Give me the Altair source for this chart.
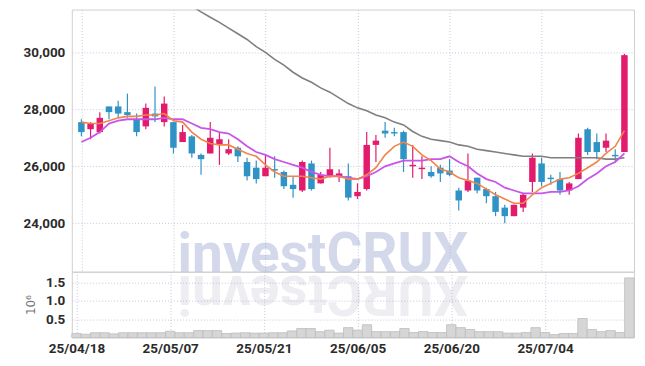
import altair as alt
import pandas as pd

dates = ["25/04/18", "25/04/21", "25/04/22", "25/04/23", "25/04/24", "25/04/25", "25/04/28", "25/04/29",
         "25/04/30", "25/05/02", "25/05/07", "25/05/08", "25/05/09", "25/05/12", "25/05/13", "25/05/14",
         "25/05/15", "25/05/16", "25/05/19", "25/05/20", "25/05/21", "25/05/22", "25/05/23", "25/05/26",
         "25/05/27", "25/05/28", "25/05/29", "25/05/30", "25/06/02", "25/06/04", "25/06/05", "25/06/09",
         "25/06/10", "25/06/11", "25/06/12", "25/06/13", "25/06/16", "25/06/17", "25/06/18", "25/06/19",
         "25/06/20", "25/06/23", "25/06/24", "25/06/25", "25/06/26", "25/06/27", "25/06/30", "25/07/01",
         "25/07/02", "25/07/03", "25/07/04", "25/07/07", "25/07/08", "25/07/09", "25/07/10", "25/07/11",
         "25/07/14", "25/07/15", "25/07/16", "25/07/17"]

opens = [27550, 27300, 27200, 28100, 28100, 27900, 27650, 27400, 27850, 27550,
         27550, 26850, 27050, 26400, 26450, 26750, 26450, 26650, 26150, 25950,
         25650, 25900, 25800, 25350, 25150, 26100, 25400, 25650, 25650, 25650,
         24950, 25200, 26750, 27250, 27200, 27200, 26000, 25900, 25800, 25950,
         25850, 25150, 25150, 25600, 25200, 24950, 24550, 24250, 24550, 25450,
         26100, 25600, 25550, 25150, 25550, 27300, 26850, 26650, 26400, 26500]
closes = [27200, 27500, 27700, 27900, 27850, 27800, 27200, 28050, 27750, 28200,
          26650, 27200, 26450, 26250, 27000, 26950, 26600, 26350, 25650, 25550,
          25950, 25850, 25300, 25200, 26150, 25200, 25700, 25900, 25750, 24900,
          25100, 26750, 26900, 27150, 27150, 26250, 26050, 25950, 25650, 25750,
          25700, 24800, 25500, 25150, 24950, 24400, 24250, 24650, 25000, 26300,
          25450, 25550, 25150, 25400, 27000, 26500, 26500, 26900, 26350, 29900]
highs = [27650, 27550, 27900, 28100, 28300, 28550, 27850, 28200, 28800, 28450,
         27550, 27450, 27100, 26450, 27550, 27200, 26950, 26700, 26300, 26200,
         26400, 26350, 25850, 25650, 26200, 26200, 25800, 26650, 25900, 26100,
         25400, 27200, 27100, 27550, 27350, 27250, 26750, 26350, 26000, 26050,
         26250, 25250, 26450, 25600, 25250, 25100, 24650, 24650, 25050, 26450,
         26300, 25700, 25800, 25450, 27150, 27350, 27150, 27150, 26600, 29950]
lows = [27050, 26950, 27150, 27650, 27700, 27700, 27050, 27300, 27550, 27400,
        26450, 26850, 26300, 25700, 26450, 26050, 26400, 26150, 25500, 25400,
        25650, 25600, 25200, 24900, 25100, 25150, 25400, 25600, 25450, 24800,
        24850, 25150, 26150, 27000, 27050, 25800, 25600, 25550, 25600, 25450,
        25650, 24450, 25100, 25050, 24700, 24250, 24000, 24250, 24400, 25100,
        25300, 25350, 25000, 25000, 25550, 26400, 26250, 26500, 26150, 26500]

ma_short = [27550, 27500, 27500, 27600, 27700, 27750, 27750, 27800, 27800, 27850,
            27600, 27550, 27200, 26950, 26800, 26750, 26750, 26600, 26450, 26350,
            26050, 25800, 25650, 25650, 25650, 25600, 25550, 25650, 25650, 25550,
            25550, 25700, 25950, 26400, 26700, 26850, 26700, 26400, 26200, 25900,
            25800, 25600, 25500, 25400, 25200, 25000, 24850, 24700, 24700, 25000,
            25250, 25400, 25550, 25600, 25750, 25950, 26150, 26450, 26700, 27250]
ma_mid = [26850, 27000, 27200, 27500, 27600, 27650, 27650, 27650, 27650, 27700,
          27650, 27650, 27500, 27350, 27300, 27200, 27150, 26950, 26700, 26500,
          26400, 26250, 26150, 26050, 25950, 25800, 25700, 25650, 25650, 25600,
          25550, 25650, 25800, 26000, 26100, 26200, 26200, 26200, 26250, 26250,
          26350, 26150, 26000, 25750, 25550, 25450, 25250, 25150, 25050, 25050,
          25050, 25100, 25100, 25150, 25300, 25550, 25750, 26000, 26150, 26450]
ma_long_start = 11
ma_long = [31800, 31620, 31420, 31230, 31050, 30850, 30650, 30450, 30200,
           30000, 29750, 29550, 29300, 29100, 28950, 28750, 28600, 28400, 28200,
           28050, 27950, 27800, 27700, 27550, 27450, 27220, 27050, 26950, 26900,
           26850, 26750, 26700, 26600, 26550, 26500, 26450, 26400, 26350, 26350,
           26350, 26300, 26300, 26300, 26300, 26300, 26300, 26250, 26250, 26300]

volumes = [0.11, 0.09, 0.13, 0.13, 0.10, 0.13, 0.13, 0.13, 0.13, 0.13,
           0.17, 0.13, 0.13, 0.19, 0.19, 0.19, 0.11, 0.12, 0.13, 0.12,
           0.12, 0.13, 0.13, 0.18, 0.245, 0.245, 0.16, 0.20, 0.12, 0.27,
           0.20, 0.35, 0.16, 0.16, 0.16, 0.245, 0.136, 0.163, 0.136, 0.136,
           0.35, 0.27, 0.22, 0.16, 0.16, 0.16, 0.12, 0.12, 0.136, 0.27,
           0.136, 0.08, 0.11, 0.11, 0.52, 0.22, 0.16, 0.19, 0.136, 1.63]

label_dates = ["25/04/18", "25/05/07", "25/05/21", "25/06/05", "25/06/20", "25/07/04"]
price_ticks = [24000, 26000, 28000, 30000]
vol_ticks = [0.5, 1.0, 1.5]

UP = "#e31b6d"
DOWN = "#2f93c6"
ORANGE = "#f0844c"
VIOLET = "#c955e8"
GRAY = "#7f7f7f"
FONT = "Roboto"

n = len(dates)
df = pd.DataFrame({
    "idx": list(range(n)), "date": dates, "open": opens, "high": highs,
    "low": lows, "close": closes, "ma_short": ma_short, "ma_mid": ma_mid,
    "vol": volumes,
})
df["dir"] = ["up" if c >= o else "down" for o, c in zip(opens, closes)]
df["x0"] = df["idx"] - 0.5
df["x1"] = df["idx"] + 0.5
long_df = pd.DataFrame({"idx": list(range(ma_long_start, ma_long_start + len(ma_long))), "ma": ma_long})

tick_idx = [dates.index(d) for d in label_dates]
label_expr = "[" + ",".join("'%s'" % d for d in dates) + "][datum.value]"

W = 564
H_PRICE = 263
H_VOL = 66

xscale = alt.Scale(domain=[-0.5, n - 0.5], nice=False, zero=False)
yscale = alt.Scale(domain=[22300, 31500], nice=False, zero=False)
color = alt.Color("dir:N", scale=alt.Scale(domain=["up", "down"], range=[UP, DOWN]), legend=None)

x_axis_top = alt.Axis(values=tick_idx, labels=False, ticks=False, domain=False, grid=True, title=None)
y_axis_price = alt.Axis(values=price_ticks, format=",d", title=None, ticks=False, domain=False,
                        labelPadding=7, grid=True)

base = alt.Chart(df)
wick = base.mark_rule(strokeWidth=1.2).encode(
    x=alt.X("idx:Q", scale=xscale, axis=x_axis_top),
    y=alt.Y("low:Q", scale=yscale, axis=y_axis_price),
    y2="high:Q",
    color=color,
)
body = base.mark_bar(size=6.5).encode(
    x=alt.X("idx:Q", scale=xscale),
    y=alt.Y("open:Q", scale=yscale),
    y2="close:Q",
    color=color,
)
line_long = alt.Chart(long_df).mark_line(color=GRAY, strokeWidth=1.6, clip=True).encode(
    x=alt.X("idx:Q", scale=xscale), y=alt.Y("ma:Q", scale=yscale))
line_mid = base.mark_line(color=VIOLET, strokeWidth=1.8, clip=True).encode(
    x=alt.X("idx:Q", scale=xscale), y=alt.Y("ma_mid:Q", scale=yscale))
line_short = base.mark_line(color=ORANGE, strokeWidth=1.6, clip=True).encode(
    x=alt.X("idx:Q", scale=xscale), y=alt.Y("ma_short:Q", scale=yscale))

wm_df = pd.DataFrame({"t": ["investCRUX"], "r": ["XURCtsevni"]})
watermark = alt.Chart(wm_df).mark_text(
    font="Roboto", fontWeight="bold", fontSize=55, align="left", baseline="alphabetic",
    color="#6f80c0", opacity=0.3,
).encode(x=alt.value(106), y=alt.value(H_PRICE), text="t:N")

price = alt.layer(watermark, wick, body, line_long, line_mid, line_short).properties(width=W, height=H_PRICE)

reflection = alt.Chart(wm_df).mark_text(
    font="Roboto", fontWeight="bold", fontSize=55, align="right", baseline="alphabetic",
    angle=180, color="#8a8aa8", opacity=0.14,
).encode(x=alt.value(106), y=alt.value(4), text="r:N")

vol_bars = alt.Chart(df).mark_bar(color="#d6d6d6", stroke="#bdbdbd", strokeWidth=0.8).encode(
    x=alt.X("x0:Q", scale=xscale,
            axis=alt.Axis(values=tick_idx, labelExpr=label_expr, grid=True, ticks=False,
                          domain=False, title=None, labelPadding=4, labelAngle=0)),
    x2="x1:Q",
    y=alt.Y("vol:Q", scale=alt.Scale(domain=[0, 1.8], nice=False),
            axis=alt.Axis(values=vol_ticks, format=".1f", title="10⁶", ticks=False, domain=False,
                          labelPadding=7, titlePadding=8, titleFont="DejaVu Sans",
                          titleFontWeight="normal", titleFontSize=12, titleColor="#777777")),
    y2=alt.datum(0),
)
volume = alt.layer(reflection, vol_bars).properties(width=W, height=H_VOL)

chart = alt.vconcat(price, volume, spacing=0, bounds="flush").properties(
    padding={"left": 14, "top": 0, "right": 2, "bottom": 2}
).configure_view(stroke="#cfcfcf").configure_axis(
    gridColor="#c3c8de", gridDash=[1, 2], gridWidth=1,
    labelFont=FONT, labelFontSize=13.5, labelFontWeight="bold", labelColor="#2b2b2b",
)

chart.save("out.html", embed_options={"renderer": "svg", "actions": False})
